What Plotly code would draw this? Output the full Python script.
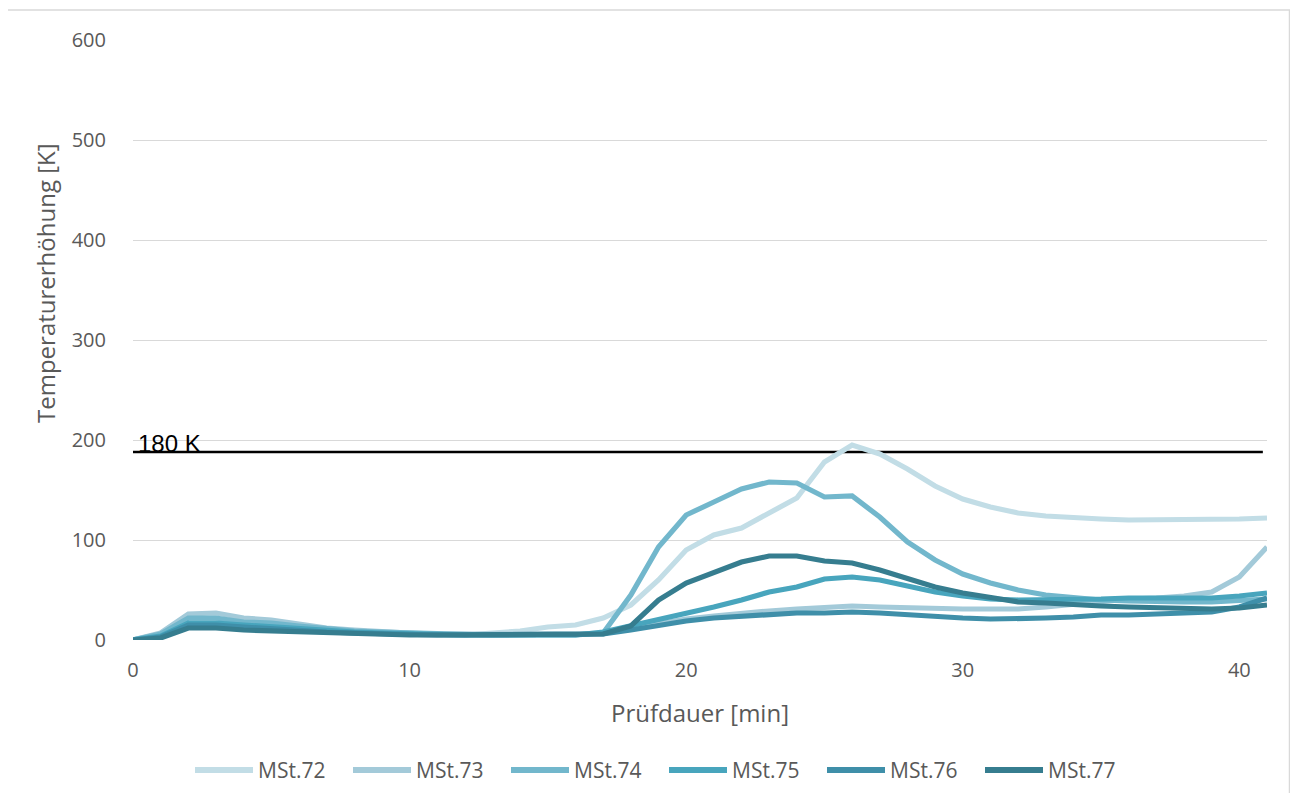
import plotly.graph_objects as go

minutes = list(range(0, 42))

mst72 = [0, 5, 18, 19, 16, 14, 11, 9, 8, 7, 6,
         6, 5, 7, 9, 13, 15,
         22, 35, 60, 90, 105, 112, 127, 142, 178, 195,
         186, 171, 154, 141, 133, 127, 124, 122, 121, 120,
         120, 120, 120, 121, 122]
mst73 = [0, 7, 26, 27, 22, 20, 16, 12, 10, 8, 7,
         6, 6, 5, 5, 5, 6,
         7, 12, 17, 21, 24, 27, 29, 31, 33, 34,
         33, 32, 31, 31, 31, 31, 33, 36, 39, 41,
         42, 44, 48, 63, 93]
mst74 = [0, 6, 22, 22, 18, 17, 14, 11, 9, 8, 7,
         6, 6, 5, 5, 5, 5,
         7, 45, 93, 125, 138, 151, 158, 157, 143, 144,
         123, 98, 80, 66, 57, 50, 45, 42, 40, 39,
         38, 38, 38, 39, 41]
mst75 = [0, 4, 17, 17, 15, 13, 11, 9, 8, 7, 6,
         6, 5, 5, 5, 5, 5,
         8, 14, 20, 27, 33, 40, 48, 53, 61, 63,
         60, 54, 48, 44, 41, 40, 40, 41, 41, 42,
         42, 42, 42, 44, 47]
mst76 = [0, 3, 15, 15, 13, 11, 10, 8, 7, 6, 6,
         5, 5, 5, 5, 5, 5,
         6, 10, 15, 19, 22, 24, 26, 27, 27, 28,
         27, 25, 24, 22, 21, 21, 22, 23, 25, 25,
         26, 27, 28, 33, 42]
mst77 = [0, 2, 12, 12, 10, 9, 8, 7, 6, 6, 5,
         5, 5, 5, 5, 5, 5,
         6, 14, 40, 57, 68, 78, 84, 84, 79, 77,
         70, 62, 53, 47, 42, 38, 37, 35, 34, 33,
         32, 32, 31, 32, 35]

series_names = ["MSt.72", "MSt.73", "MSt.74", "MSt.75", "MSt.76", "MSt.77"]
series_values = [mst72, mst73, mst74, mst75, mst76, mst77]
series_colors = ["#c2dde6", "#a3cad9", "#72b7cc", "#48a5bd", "#3f8fa9", "#367d8f"]

limit_x = [0, 40.85]
limit_y = [188, 188]
limit_label = "180 K"

x_ticks = [0, 10, 20, 30, 40]
y_ticks = [0, 100, 200, 300, 400, 500, 600]

FONT = "Open Sans"
GRAY = "#595959"

# the page body adds an 8px margin; plot area on screen: x 133..1267, y 40..640
W, H = 1282, 785
PX0, PX1, PY0, PY1 = 133, 1267, 40, 640


def px(sx):
    return (sx - PX0) / (PX1 - PX0)


def py(sy):
    return (PY1 - sy) / (PY1 - PY0)


fig = go.Figure()

fig.add_trace(go.Scatter(x=limit_x, y=limit_y, mode="lines",
                         line=dict(color="black", width=2.5),
                         showlegend=False, hoverinfo="skip"))

for name, vals, col in zip(series_names, series_values, series_colors):
    fig.add_trace(go.Scatter(x=minutes, y=vals, mode="lines", name=name,
                             line=dict(color=col, width=5.2), showlegend=False))

fig.add_annotation(x=0.1, y=197, xref="x", yref="y", text=limit_label,
                   showarrow=False, xanchor="left", yanchor="middle",
                   font=dict(family="Liberation Sans", size=24, color="black"))

fig.add_annotation(x=0.5, y=py(712), xref="paper", yref="paper",
                   text="Prüfdauer [min]", showarrow=False,
                   xanchor="center", yanchor="middle",
                   font=dict(family=FONT, size=24, color=GRAY))
fig.add_annotation(x=px(45), y=py(283), xref="paper", yref="paper",
                   text="Temperaturerhöhung [K]", showarrow=False, textangle=-90,
                   xanchor="center", yanchor="middle",
                   font=dict(family=FONT, size=24, color=GRAY))

# custom legend
for i, (name, col) in enumerate(zip(series_names, series_colors)):
    x0 = 195 + 158 * i
    fig.add_shape(type="line", xref="paper", yref="paper",
                  x0=px(x0), x1=px(x0 + 58), y0=py(770), y1=py(770),
                  line=dict(color=col, width=6))
    fig.add_annotation(x=px(x0 + 61), y=py(770), xref="paper", yref="paper",
                       text=name, showarrow=False, xanchor="left", yanchor="middle",
                       font=dict(family=FONT, size=21, color=GRAY))

# outer chart border
fig.add_shape(type="rect", xref="paper", yref="paper",
              x0=px(7), x1=px(1289.5), y0=py(805), y1=py(10),
              line=dict(color="#d9d9d9", width=1.5), layer="below")

fig.update_layout(
    width=W, height=H,
    margin=dict(l=PX0 - 8, r=W - (PX1 - 8), t=PY0 - 8, b=H - (PY1 - 8)),
    paper_bgcolor="white", plot_bgcolor="white",
    font=dict(family=FONT, size=20, color=GRAY),
    showlegend=False,
)

fig.update_xaxes(range=[0, 41], tickvals=x_ticks, showgrid=False, zeroline=False,
                 showline=False, ticks="outside", ticklen=12, tickcolor="rgba(0,0,0,0)",
                 tickfont=dict(family=FONT, size=20, color=GRAY))
fig.update_yaxes(range=[0, 600], tickvals=y_ticks, showgrid=True, gridcolor="#d9d9d9",
                 gridwidth=1.2, zeroline=False, showline=False, ticks="outside",
                 ticklen=22, tickcolor="rgba(0,0,0,0)",
                 tickfont=dict(family=FONT, size=20, color=GRAY))

fig.write_html("out.html")
